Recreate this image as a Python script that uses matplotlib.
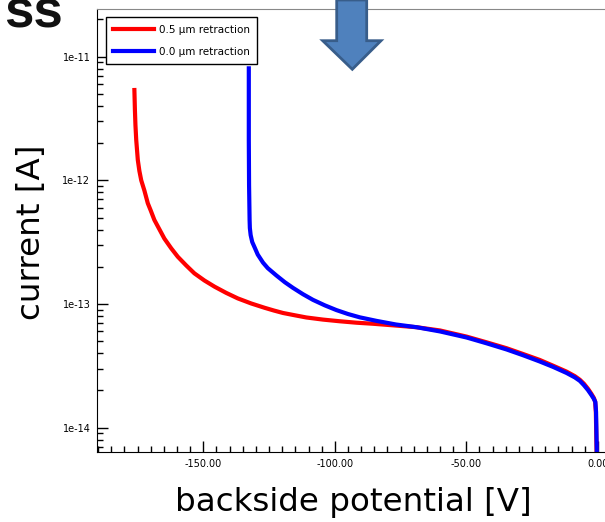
import numpy as np
import matplotlib
matplotlib.use("Agg")
import matplotlib.pyplot as plt
from matplotlib.patches import Polygon
from matplotlib.ticker import MultipleLocator, FormatStrFormatter, FuncFormatter, LogLocator

# data: backside potential [V] and current [A]
v_red = [-176.2, -176.0, -175.8, -175.5, -174.9, -174.3, -173.6, -172.4, -171.1, -170.0,
         -168.6, -166.7, -164.8, -162.2, -159.7, -156.5, -153.4, -149.6, -145.7, -141.3,
         -136.9, -131.8, -126.7, -123.2, -119.7, -115.0, -110.8, -104.5, -98.1, -91.8,
         -85.4, -77.0, -68.9, -60.0, -49.9, -42.3, -34.7, -28.4, -22.1, -17.0,
         -11.9, -8.75, -6.84, -5.32, -3.80, -2.47, -1.52, -1.03, -0.76, -0.61,
         -0.46]
i_red = [5.37e-12, 3.70e-12, 2.80e-12, 2.12e-12, 1.46e-12, 1.19e-12, 1.00e-12, 8.27e-13, 6.52e-13, 5.71e-13,
         4.78e-13, 4.02e-13, 3.38e-13, 2.82e-13, 2.41e-13, 2.05e-13, 1.77e-13, 1.55e-13, 1.38e-13, 1.23e-13,
         1.11e-13, 1.01e-13, 9.32e-14, 8.86e-14, 8.46e-14, 8.09e-14, 7.78e-14, 7.48e-14, 7.25e-14, 7.06e-14,
         6.92e-14, 6.70e-14, 6.49e-14, 6.11e-14, 5.45e-14, 4.90e-14, 4.39e-14, 3.94e-14, 3.53e-14, 3.17e-14,
         2.84e-14, 2.61e-14, 2.44e-14, 2.27e-14, 2.07e-14, 1.88e-14, 1.74e-14, 1.63e-14, 1.34e-14, 9.06e-15,
         6.0e-15]

v_blue = [-132.7, -132.7, -132.6, -132.4, -132.3, -132.0, -131.4, -130.4, -129.3, -127.3,
          -125.5, -122.2, -119.0, -115.9, -112.1, -108.3, -103.8, -99.4, -95.0, -90.5,
          -84.1, -76.8, -68.9, -60.0, -49.9, -42.3, -34.7, -28.4, -22.1, -17.0,
          -11.9, -8.75, -6.84, -5.32, -3.80, -2.47, -1.52, -0.95, -0.68, -0.53,
          -0.38]
i_blue = [8.04e-12, 2.12e-12, 9.16e-13, 4.78e-13, 4.11e-13, 3.61e-13, 3.17e-13, 2.84e-13, 2.51e-13, 2.16e-13,
          1.95e-13, 1.70e-13, 1.50e-13, 1.35e-13, 1.20e-13, 1.08e-13, 9.75e-14, 8.93e-14, 8.30e-14, 7.80e-14,
          7.30e-14, 6.83e-14, 6.49e-14, 6.00e-14, 5.36e-14, 4.81e-14, 4.29e-14, 3.85e-14, 3.43e-14, 3.10e-14,
          2.77e-14, 2.55e-14, 2.39e-14, 2.21e-14, 2.02e-14, 1.84e-14, 1.71e-14, 1.61e-14, 1.34e-14, 9.06e-15,
          6.0e-15]

labels = ["0.5 \u00b5m retraction", "0.0 \u00b5m retraction"]

W, H = 605, 522
fig = plt.figure(figsize=(W / 100, H / 100), dpi=100)

def fx(px):
    return px / W

def fy(py):
    return 1 - py / H

ax = fig.add_axes([fx(97.3), fy(452.3), fx(611) - fx(97.3), fy(9) - fy(452.3)])

ax.plot(v_red, i_red, color="#ff0000", lw=3, solid_joinstyle="round", label=labels[0])
ax.plot(v_blue, i_blue, color="#0000ff", lw=3, solid_joinstyle="round", label=labels[1])

ax.set_yscale("log")
ax.set_xlim(-190.3, 5)
ax.set_ylim(10 ** -14.199, 10 ** -10.615)

ax.xaxis.set_major_locator(MultipleLocator(50))
ax.xaxis.set_minor_locator(MultipleLocator(5))
ax.xaxis.set_major_formatter(FormatStrFormatter("%.2f"))
ax.yaxis.set_major_locator(LogLocator(base=10))
ax.yaxis.set_minor_locator(LogLocator(base=10, subs=np.arange(2, 10)))
ax.yaxis.set_major_formatter(FuncFormatter(lambda v, p: f"{v:.0e}"))

ax.tick_params(which="both", direction="in", labelsize=7, width=1, top=False, right=False)
ax.tick_params(which="major", length=8, pad=5)
ax.tick_params(which="minor", length=4)

ax.spines["top"].set_color("#888888")
ax.spines["right"].set_visible(False)

fig.text(fx(353), fy(503), "backside potential [V]", fontsize=23.4,
         ha="center", va="center")
fig.text(fx(32), fy(232), "current [A]", fontsize=23.4, rotation=90,
         ha="center", va="center")

# cropped slide title
fig.text(fx(63), fy(27), "ss", fontsize=38, fontweight="bold",
         family="Liberation Sans", ha="right", va="baseline", color="#111111")

leg = ax.legend(loc="upper left", bbox_to_anchor=(fx(105.7), fy(17.3)),
                bbox_transform=fig.transFigure, fontsize=7.5, frameon=True,
                fancybox=False, edgecolor="black", framealpha=1,
                handlelength=3.9, handletextpad=0.5, labelspacing=1.15,
                borderpad=0.7, borderaxespad=0)
leg.get_frame().set_linewidth(1)

# block arrow on the slide
arrow_px = [(336.7, 0), (366.7, 0), (366.7, 40.7), (381, 40.7),
            (352.3, 69.3), (322.7, 40.7), (336.7, 40.7)]
arrow = Polygon([(fx(x), fy(y)) for x, y in arrow_px], closed=True,
                transform=fig.transFigure, facecolor="#4f81bd",
                edgecolor="#385d8a", linewidth=2, zorder=10)
fig.patches.append(arrow)

fig.savefig("out.png", dpi=100)
